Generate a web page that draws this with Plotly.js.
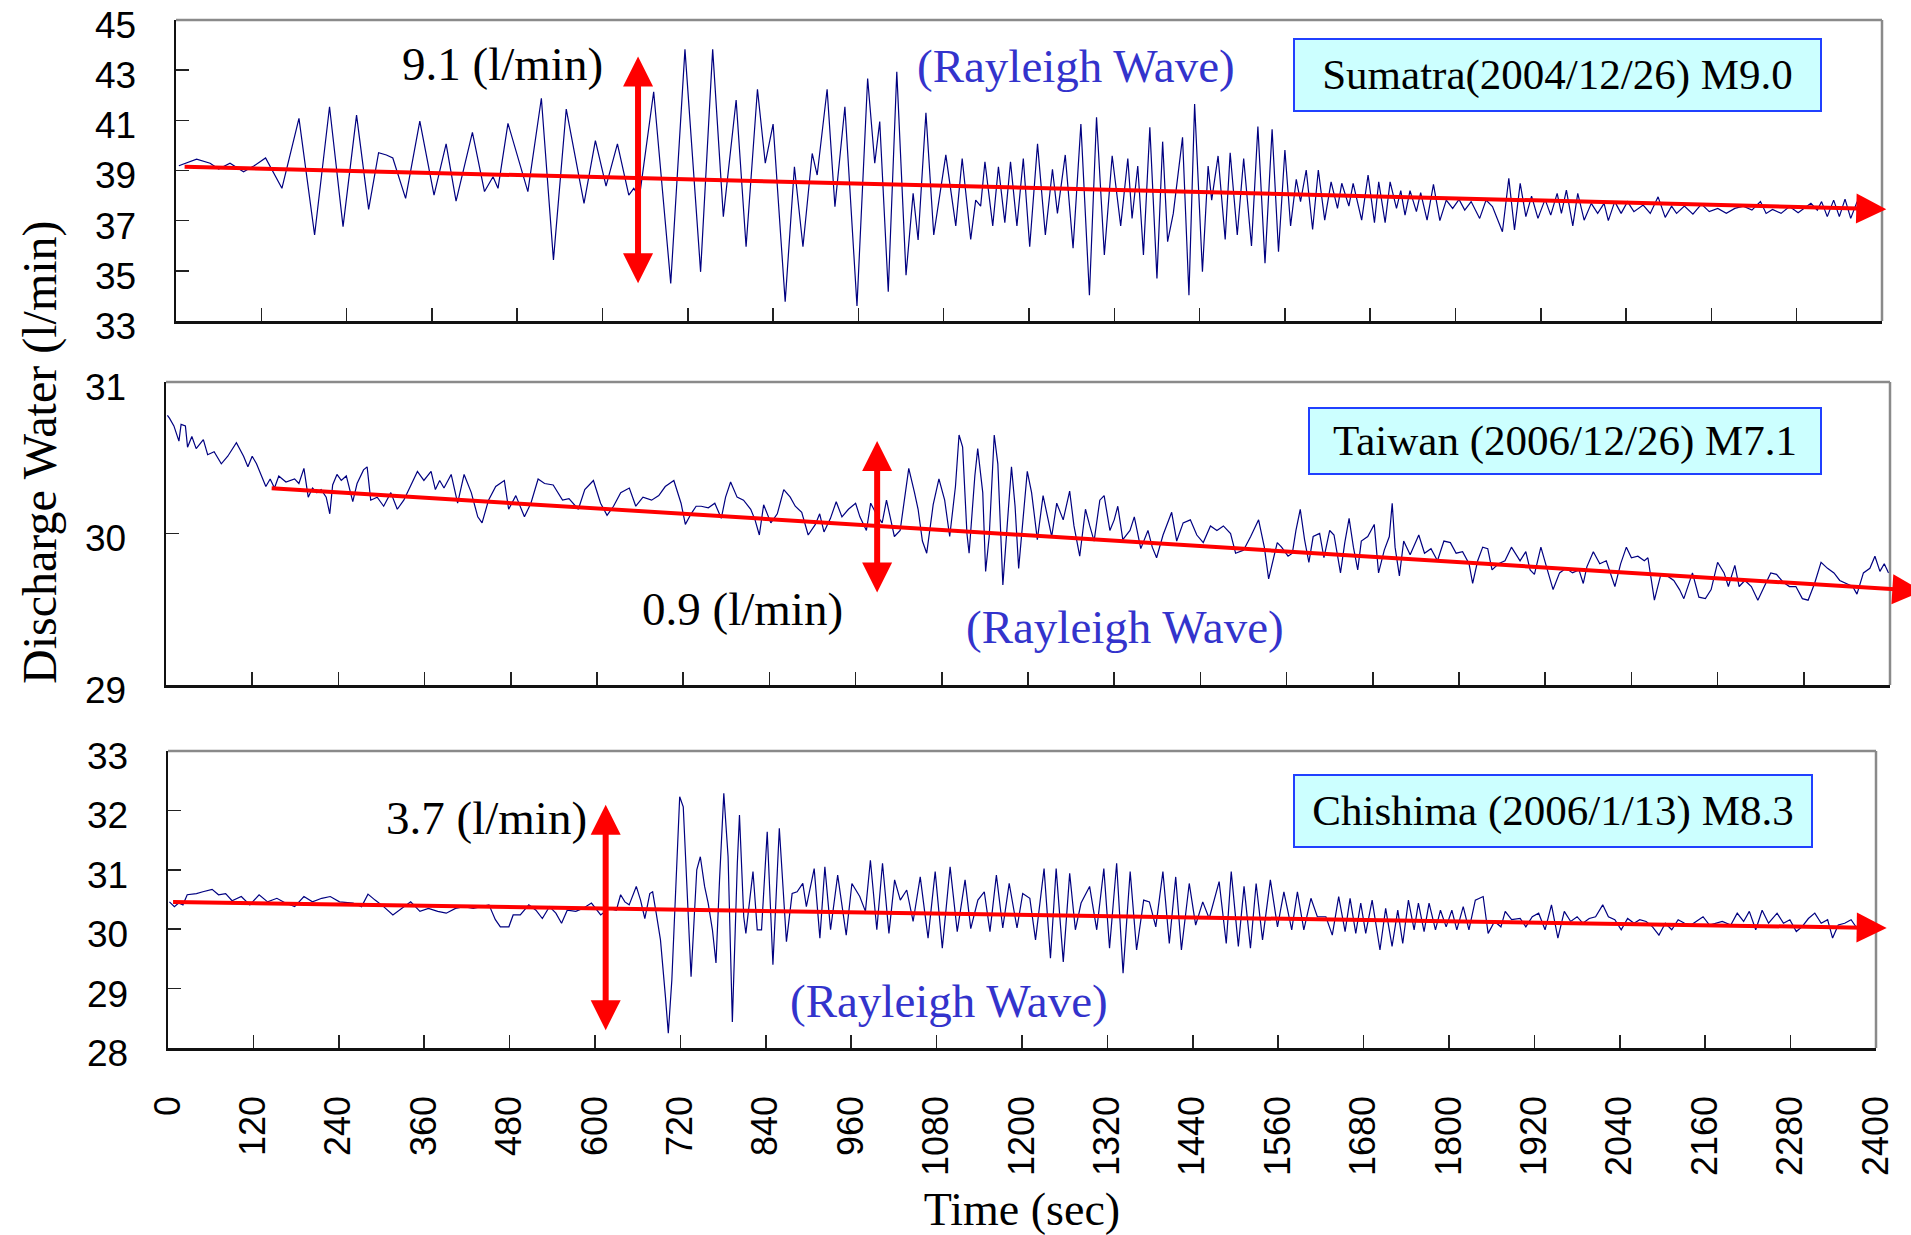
<!DOCTYPE html>
<html><head><meta charset="utf-8">
<script src="https://cdn.plot.ly/plotly-3.0.1.min.js"></script>
<style>html,body{margin:0;padding:0;background:#fff;}#chart{width:1911px;height:1235px;}</style>
</head><body><div id="chart"></div>
<script>
// ---------- data (time in sec, discharge in l/min) ----------
const timeTicks = [0,120,240,360,480,600,720,840,960,1080,1200,1320,1440,1560,1680,1800,1920,2040,2160,2280,2400];
const timeTickText = timeTicks.map(String);

const sumatraTicks = [33,35,37,39,41,43,45];
const taiwanTicks = [29,30,31];
const chishimaTicks = [28,29,30,31,32,33];

const sumatraTime = [
4,29,48,60,76,95,110,126,149,173,
195,216,235,254,271,285,296,305,323,343,
363,380,394,417,434,446,453,467,495,514,
531,549,574,590,605,621,637,644,652,672,
696,716,738,755,770,788,802,818,829,840,
857,870,882,895,902,916,927,941,958,973,
983,990,1002,1014,1027,1037,1044,1055,1066,1083,
1097,1106,1118,1125,1132,1138,1149,1157,1166,1174,
1183,1192,1201,1212,1223,1233,1240,1251,1262,1273,
1285,1295,1306,1317,1329,1339,1345,1353,1361,1370,
1380,1388,1395,1403,1416,1425,1433,1444,1452,1457,
1466,1476,1483,1493,1502,1513,1522,1532,1542,1551,
1560,1568,1576,1582,1590,1599,1607,1616,1625,1634,
1640,1650,1656,1668,1677,1686,1692,1701,1708,1717,
1723,1729,1736,1745,1751,1760,1769,1778,1787,1796,
1805,1813,1822,1834,1843,1852,1866,1875,1883,1891,
1899,1907,1916,1926,1934,1943,1949,1956,1965,1972,
1981,1991,2000,2009,2015,2024,2033,2042,2051,2064,
2074,2085,2095,2104,2111,2122,2134,2146,2157,2169,
2181,2193,2205,2217,2229,2237,2246,2258,2270,2282,
2300,2309,2315,2323,2332,2340,2348,2356,2365,2371];
const sumatraFlow = [
39.19,39.45,39.29,39.06,39.29,38.95,39.19,39.50,38.29,41.08,
36.43,41.54,36.76,41.21,37.45,39.71,39.62,39.50,37.89,40.97,
38.02,40.06,37.78,40.52,38.16,38.75,38.29,40.88,38.16,41.88,
35.43,41.45,37.69,40.19,38.38,40.06,38.02,38.29,37.95,42.14,
34.50,43.83,34.96,43.83,37.16,41.81,35.96,42.24,39.29,40.85,
33.77,39.15,35.96,39.68,38.82,42.24,37.56,41.54,33.60,42.67,
39.29,40.95,34.17,42.94,34.83,38.09,36.23,41.30,36.43,39.62,
36.79,39.48,36.25,37.82,37.58,39.35,36.79,39.15,36.92,39.35,
36.79,39.48,35.96,40.06,36.43,39.05,37.29,39.62,35.90,40.85,
34.03,41.12,35.63,39.59,36.79,39.48,37.09,39.18,35.63,40.72,
34.70,40.15,36.16,37.29,40.32,34.03,41.65,34.96,39.18,37.82,
39.58,36.25,39.71,36.43,39.48,35.99,40.75,35.30,40.64,35.76,
39.82,36.79,38.65,37.76,39.02,36.65,39.02,37.02,38.55,37.49,
38.49,37.58,38.49,37.02,38.82,36.92,38.55,36.92,38.55,37.49,
38.20,37.22,38.20,37.36,38.12,37.02,38.45,37.00,37.82,37.49,
37.85,37.42,37.76,37.09,37.82,37.56,36.56,38.69,36.63,38.49,
37.16,37.98,37.09,37.85,37.22,38.09,37.29,38.22,36.79,38.09,
37.02,37.69,37.29,37.69,37.00,37.76,37.29,37.76,37.36,37.62,
37.29,37.95,37.13,37.58,37.29,37.58,37.26,37.66,37.36,37.49,
37.29,37.49,37.58,37.42,37.76,37.29,37.45,37.29,37.56,37.32,
37.69,37.42,37.76,37.16,37.82,37.16,37.86,37.09,37.76,37.29];

const taiwanTime = [
2,5,11,18,21,27,30,36,42,52,
58,67,77,86,98,108,114,120,126,132,
139,145,151,157,167,179,185,192,198,204,
210,216,223,228,232,238,244,251,260,266,
275,280,285,294,303,313,322,331,338,350,
359,369,375,381,387,397,406,415,425,434,
440,449,459,471,477,487,499,508,518,527,
539,552,561,574,583,595,605,614,623,633,
645,654,664,676,686,695,707,717,723,731,
738,745,755,764,773,779,786,795,804,814,
820,826,832,842,851,860,869,876,885,894,
904,910,916,925,933,941,950,960,966,975,
981,991,997,1003,1009,1014,1022,1028,1034,1042,
1047,1053,1059,1068,1076,1084,1091,1099,1104,1109,
1115,1118,1126,1130,1137,1141,1146,1153,1158,1165,
1171,1177,1182,1187,1193,1199,1205,1213,1221,1227,
1233,1240,1249,1258,1264,1272,1280,1286,1292,1300,
1306,1314,1320,1325,1332,1342,1348,1357,1367,1373,
1379,1388,1400,1407,1416,1426,1435,1444,1454,1463,
1472,1482,1489,1500,1510,
1521,1529,1535,1541,1547,1553,1562,1568,1573,1579,
1585,1591,1597,1606,1612,1620,1626,1635,1641,1647,
1653,1659,1664,1673,1682,1688,1696,1703,1707,1711,
1717,1723,1732,1744,1752,1761,1770,1779,1788,1796,
1805,1814,1819,1826,1833,1840,1846,1855,1864,1873,
1885,1893,1899,1905,1914,1923,1931,1940,1949,1958,
1967,1973,1978,1987,1996,2005,2017,2025,2033,2040,
2049,2058,2063,2072,2081,2090,2099,2107,2113,2125,
2134,2143,2151,2160,2169,2175,2184,2190,2198,2207,
2216,2225,2234,2242,2251,2260,2269,2278,2286,2295,
2304,2313,2322,2330,2339,2348,2354,2363,2372,2379,
2386,2392,2398];
const taiwanFlow = [
30.78,30.76,30.71,30.61,30.72,30.71,30.57,30.64,30.56,30.62,
30.52,30.54,30.46,30.51,30.60,30.51,30.44,30.51,30.46,30.39,
30.31,30.36,30.30,30.38,30.34,30.36,30.33,30.43,30.24,30.30,
30.27,30.29,30.24,30.13,30.32,30.39,30.35,30.38,30.21,30.33,
30.42,30.44,30.22,30.24,30.18,30.27,30.16,30.22,30.29,30.41,
30.35,30.41,30.29,30.35,30.30,30.39,30.20,30.39,30.27,30.11,
30.07,30.22,30.31,30.35,30.16,30.25,30.11,30.20,30.36,30.33,
30.32,30.22,30.23,30.16,30.29,30.35,30.20,30.12,30.18,30.27,
30.30,30.18,30.24,30.22,30.25,30.31,30.35,30.20,30.06,30.13,
30.18,30.18,30.17,30.20,30.10,30.24,30.34,30.24,30.22,30.16,
30.09,29.99,30.19,30.07,30.13,30.29,30.24,30.18,30.14,29.99,
30.06,30.13,30.01,30.10,30.21,30.11,30.16,30.20,30.11,30.02,
30.20,30.11,30.07,30.22,30.09,29.98,30.02,30.24,30.43,30.27,
30.16,29.95,29.87,30.19,30.36,30.22,29.98,30.31,30.65,30.57,
30.00,29.87,30.38,30.56,30.27,29.75,29.98,30.65,30.46,29.66,
30.05,30.44,30.18,29.77,30.09,30.41,30.27,29.96,30.25,30.11,
29.98,30.20,30.09,30.28,30.05,29.85,30.16,30.05,29.95,30.22,
30.25,30.02,30.09,30.18,29.96,30.02,30.11,29.90,30.02,29.91,
29.84,29.99,30.14,29.95,30.07,30.09,29.99,29.94,30.05,30.02,
30.05,30.00,29.87,29.89,29.98,
30.09,29.91,29.70,29.82,29.94,29.91,29.85,29.87,30.02,30.16,
29.96,29.81,29.98,30.00,29.84,30.02,29.99,29.74,29.94,30.10,
29.91,29.76,29.95,29.98,30.06,29.74,29.89,29.98,30.20,29.91,
29.72,29.95,29.86,29.99,29.87,29.90,29.82,29.95,29.94,29.87,
29.88,29.80,29.67,29.82,29.91,29.90,29.76,29.80,29.82,29.91,
29.82,29.88,29.76,29.73,29.91,29.76,29.63,29.74,29.77,29.74,
29.76,29.67,29.78,29.88,29.80,29.82,29.65,29.80,29.91,29.84,
29.85,29.82,29.84,29.56,29.73,29.72,29.69,29.63,29.57,29.74,
29.58,29.57,29.63,29.81,29.74,29.65,29.79,29.65,29.69,29.65,
29.56,29.65,29.74,29.73,29.68,29.65,29.65,29.57,29.56,29.67,
29.81,29.77,29.74,29.69,29.67,29.65,29.60,29.74,29.77,29.85,
29.75,29.80,29.74];

const chishimaTime = [
2,9,15,21,27,40,49,62,71,81,
90,103,115,128,140,153,165,178,191,203,
216,228,241,260,272,281,291,303,316,329,
341,354,366,379,391,404,416,429,441,451,
460,467,479,485,495,507,517,526,536,545,
553,561,573,583,595,608,620,630,636,642,
648,658,664,670,677,681,686,692,699,703,
708,714,719,724,730,735,
743,748,754,759,765,770,775,781,787,793,
800,803,809,812,822,828,834,842,850,859,
869,877,884,892,897,908,916,923,931,941,
953,961,972,980,987,996,1004,1013,1021,1029,
1038,1047,1057,1068,1078,1088,1099,1109,1120,1128,
1138,1147,1155,1164,1173,1182,1193,1201,1211,1219,
1231,1240,1248,1258,1267,1275,1283,1295,1305,1315,
1323,1333,1342,1352,1361,1371,1379,1388,1398,1407,
1416,1424,1435,1444,1454,1463,1477,1487,1494,1504,
1512,1521,
1529,1538,1549,1559,1568,1579,1587,1596,1606,1615,
1627,1636,1645,1654,1661,1669,1676,1683,1692,1703,
1711,1720,1728,1735,1743,1751,1757,1765,1772,1781,
1788,1796,1804,1811,1820,1828,1837,1848,1855,1864,
1873,1879,1888,1900,1908,1917,1926,1935,1944,1953,
1962,1971,1980,1988,1997,2006,2016,2024,2033,2042,
2051,2060,2068,2077,2086,2095,2104,2113,2122,2131,
2140,2148,2157,2166,2175,2184,2196,2205,2214,2222,
2231,2240,2249,2261,2270,2279,2288,2296,2305,2314,
2323,2332,2339,2347,2356,2365,2373,2379];
const chishimaFlow = [
30.46,30.38,30.44,30.41,30.58,30.60,30.63,30.67,30.58,30.60,
30.48,30.55,30.41,30.58,30.46,30.52,30.44,30.38,30.55,30.46,
30.52,30.55,30.46,30.44,30.38,30.59,30.49,30.38,30.24,30.35,
30.46,30.30,30.35,30.30,30.27,30.35,30.38,30.35,30.38,30.41,
30.16,30.04,30.04,30.24,30.24,30.41,30.32,30.18,30.38,30.27,
30.10,30.32,30.30,30.35,30.44,30.24,30.35,30.32,30.58,30.46,
30.41,30.72,30.49,30.18,30.60,30.63,30.27,29.82,28.86,28.25,
29.15,31.00,32.23,32.06,30.55,29.20,
31.00,31.22,30.72,30.44,29.99,29.43,30.83,32.29,31.22,28.44,
31.11,31.92,30.21,29.93,30.97,29.99,29.99,31.64,29.40,31.70,
29.79,30.60,30.63,30.77,30.38,31.02,29.85,31.05,29.99,30.91,
29.90,30.77,30.55,30.30,31.16,29.99,31.11,29.93,30.83,30.49,
30.66,30.13,30.88,29.85,30.97,29.68,31.05,29.96,30.83,30.01,
30.49,30.63,29.96,30.91,30.02,30.77,30.02,30.60,30.52,29.82,
31.02,29.51,31.02,29.45,30.94,29.99,30.44,30.72,29.99,31.02,
29.68,31.11,29.26,30.97,29.65,30.49,30.46,30.04,30.97,29.76,
30.88,29.65,30.77,30.07,30.46,30.18,30.80,29.76,30.97,29.71,
30.72,29.68,
30.77,29.82,30.83,30.04,30.63,29.99,30.63,29.99,30.52,30.21,
30.21,29.90,30.55,29.96,30.52,29.93,30.44,29.93,30.49,29.65,
30.35,29.71,30.32,29.76,30.49,29.99,30.44,29.96,30.44,29.99,
30.32,30.04,30.32,29.99,30.38,29.99,30.49,30.55,29.93,30.13,
30.04,30.30,30.16,30.18,30.04,30.21,30.27,29.99,30.41,29.85,
30.30,30.13,30.21,30.10,30.18,30.21,30.41,30.21,30.16,29.99,
30.18,30.10,30.16,30.13,30.04,29.90,30.10,29.99,30.16,30.10,
30.07,30.13,30.21,30.07,30.10,30.13,30.07,30.27,30.13,30.30,
29.99,30.32,30.10,30.27,30.10,30.16,29.96,30.04,30.18,30.27,
30.10,30.16,29.85,30.07,30.10,30.16,30.02,30.13];

// red trend lines (start -> end with arrow)
const trendStartTime = [10, 145, 5];
const trendStartFlow = [39.15, 30.30, 30.46];
const trendEndTime = [2406, 2445, 2415];
const trendEndFlow = [37.46, 29.62, 30.02];
// red double arrows showing amplitude
const rangeTime = [650, 990, 615];
const rangeTop = [43.6, 30.62, 32.12];
const rangeBottom = [34.5, 29.61, 28.30];
const rangeLabels = ['9.1 (l/min)', '0.9 (l/min)', '3.7 (l/min)'];
const eventLabels = ['Sumatra(2004/12/26) M9.0', 'Taiwan (2006/12/26) M7.1', 'Chishima (2006/1/13) M8.3'];
const waveLabel = '(Rayleigh Wave)';

// ---------- layout ----------
const W = 1911, H = 1235;
const px = v => v / W, py = v => 1 - v / H;
const SERIF = 'Liberation Serif, Times New Roman, serif';
const panels = [
  {xd:[176,1882], yd:[20,321], yr:[33,45], ticks:sumatraTicks},
  {xd:[166,1890], yd:[382,685], yr:[29,31], ticks:taiwanTicks},
  {xd:[168,1876], yd:[751,1048], yr:[28,33], ticks:chishimaTicks}
];
const series = [[sumatraTime,sumatraFlow],[taiwanTime,taiwanFlow],[chishimaTime,chishimaFlow]];

const layout = {
  width: W, height: H,
  margin: {l:0, r:0, t:0, b:0},
  paper_bgcolor: '#ffffff', plot_bgcolor: '#ffffff',
  showlegend: false,
  shapes: [], annotations: []
};
const traces = [];

panels.forEach((p, i) => {
  const s = i === 0 ? '' : String(i + 1);
  const last = i === panels.length - 1;
  layout['xaxis' + s] = {
    domain: [px(p.xd[0]), px(p.xd[1])], range: [0, 2400], anchor: 'y' + s,
    tickmode: 'array', tickvals: timeTicks, ticktext: timeTickText,
    ticks: 'inside', ticklen: 13, tickwidth: 1.5, tickcolor: '#222',
    showline: true, linecolor: '#111', linewidth: 2.5,
    showgrid: false, zeroline: false, fixedrange: true,
    showticklabels: last, tickangle: -90, ticklabelstandoff: 31,
    ticklabeloverflow: 'allow',
    tickfont: {family: 'Liberation Sans, Arial, sans-serif', size: 36, color: '#000'}
  };
  if (last) {
    layout['xaxis' + s].title = {text: 'Time (sec)', standoff: 28,
      font: {family: SERIF, size: 46, color: '#000'}};
  }
  layout['yaxis' + s] = {
    domain: [py(p.yd[1]), py(p.yd[0])], range: p.yr, anchor: 'x' + s,
    tickmode: 'array', tickvals: p.ticks,
    ticks: 'inside', ticklen: 13, tickwidth: 1.5, tickcolor: '#222',
    showline: true, linecolor: '#111', linewidth: 2.5,
    showgrid: false, zeroline: false, fixedrange: true,
    ticklabelstandoff: 30, ticklabelshift: 5, ticklabeloverflow: 'allow',
    tickfont: {family: 'Liberation Sans, Arial, sans-serif', size: 37, color: '#000'}
  };
  // grey top and right frame
  layout.shapes.push({type:'line', xref:'x'+s+' domain', yref:'y'+s+' domain', x0:0, x1:1, y0:1, y1:1, line:{color:'#8a8a8a', width:2.5}});
  layout.shapes.push({type:'line', xref:'x'+s+' domain', yref:'y'+s+' domain', x0:1, x1:1, y0:0, y1:1, line:{color:'#8a8a8a', width:2.5}});

  traces.push({
    type: 'scatter', mode: 'lines', x: series[i][0], y: series[i][1],
    xaxis: 'x' + s, yaxis: 'y' + s,
    line: {color: '#000080', width: 1.2}, hoverinfo: 'skip'
  });

  // trend line with arrow
  layout.annotations.push({
    xref:'x'+s, yref:'y'+s, axref:'x'+s, ayref:'y'+s,
    x: trendEndTime[i], y: trendEndFlow[i], ax: trendStartTime[i], ay: trendStartFlow[i],
    text: '', showarrow: true, arrowhead: 2, arrowsize: 1.5, arrowwidth: 4,
    arrowcolor: '#ff0000', standoff: 0, startstandoff: 0
  });
  // amplitude double arrow
  layout.annotations.push({
    xref:'x'+s, yref:'y'+s, axref:'x'+s, ayref:'y'+s,
    x: rangeTime[i], y: rangeBottom[i], ax: rangeTime[i], ay: rangeTop[i],
    text: '', showarrow: true, arrowside: 'end+start',
    arrowhead: 2, startarrowhead: 2, arrowsize: 1, startarrowsize: 1,
    arrowwidth: 6, arrowcolor: '#ff0000', standoff: 0, startstandoff: 0
  });
});

// text labels (positions in data units of each panel)
const textPos = [
  {amp:[460,43.25], wave:[1266,43.17], box:[1943,42.81], bw:525, bh:70},
  {amp:[803,29.50], wave:[1335,29.38], box:[1948,30.61], bw:510, bh:64},
  {amp:[448,31.87], wave:[1097,28.79], box:[1946,31.99], bw:516, bh:70}
];
textPos.forEach((t, i) => {
  const s = i === 0 ? '' : String(i + 1);
  layout.annotations.push({xref:'x'+s, yref:'y'+s, x:t.amp[0], y:t.amp[1], text: rangeLabels[i],
    showarrow:false, font:{family:SERIF, size:47, color:'#000'}});
  layout.annotations.push({xref:'x'+s, yref:'y'+s, x:t.wave[0], y:t.wave[1], text: waveLabel,
    showarrow:false, font:{family:SERIF, size:47, color:'#3333cc'}});
  layout.annotations.push({xref:'x'+s, yref:'y'+s, x:t.box[0], y:t.box[1], text: eventLabels[i],
    showarrow:false, width:t.bw, height:t.bh, align:'center', valign:'middle',
    bgcolor:'#ccffff', bordercolor:'#2040ff', borderwidth:2, borderpad:0,
    font:{family:SERIF, size:43, color:'#000'}});
});

// shared y-axis title
layout.annotations.push({xref:'paper', yref:'paper', x:px(40), y:py(452), text:'Discharge Water (l/min)',
  textangle:-90, showarrow:false, xanchor:'center', yanchor:'middle',
  font:{family:SERIF, size:48, color:'#000'}});

Plotly.newPlot('chart', traces, layout, {staticPlot: true, displayModeBar: false});
</script>
</body></html>
